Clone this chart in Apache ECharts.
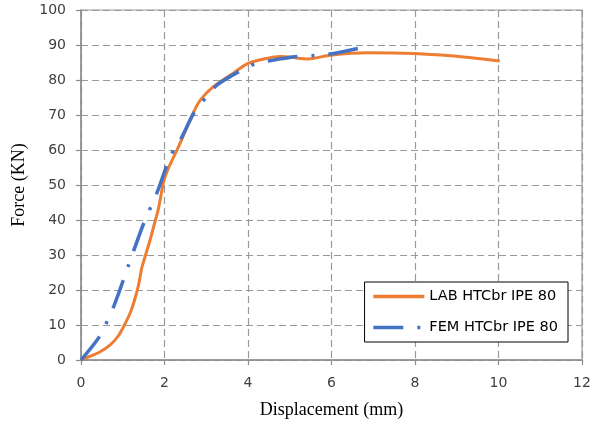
<!DOCTYPE html>
<html>
<head>
<meta charset="utf-8">
<script src="https://cdn.jsdelivr.net/npm/echarts@6/dist/echarts.min.js"></script>
<style>
  html, body { margin: 0; padding: 0; background: #ffffff; }
  #chart { width: 597px; height: 427px; }
</style>
</head>
<body>
<div id="chart"></div>
<script>
// Force-displacement curves: laboratory test vs. finite element model
const labDisp  = [0, 0.2, 0.44, 0.7, 0.9, 1.04, 1.18, 1.28, 1.38, 1.46, 1.56, 1.66, 1.76, 1.84, 1.9, 1.98, 2.1, 2.3, 2.54, 2.7, 2.86, 3.17, 3.58, 3.98, 4.38, 4.78, 5.0, 5.2, 5.42, 5.97, 6.87, 7.98, 8.86, 10.03];
const labForce = [0, 1.0, 2.2, 4.3, 7.0, 10, 13.5, 17, 21.5, 26.5, 30.5, 34.5, 39, 42.5, 46, 51, 55, 60, 66.5, 70.9, 74.3, 78.1, 81.4, 84.6, 86.0, 86.7, 86.6, 86.2, 86.0, 87.1, 87.8, 87.6, 86.9, 85.4];

const femDisp  = [0, 0.44, 0.78, 1.14, 1.5, 1.82, 2.06, 2.22, 2.38, 2.7, 2.98, 3.26, 3.78, 4.17, 4.62, 5.18, 5.6, 6.06, 6.71];
const femForce = [0, 6.7, 15.2, 27.1, 39, 47.8, 55.7, 60, 62.9, 70.5, 74.8, 78.6, 82.4, 84.6, 85.7, 86.7, 87.0, 87.6, 89.2];

const xTicks = { min: 0, max: 12, interval: 2 };
const yTicks = { min: 0, max: 100, interval: 10 };

const labName = 'LAB HTCbr IPE 80';
const femName = 'FEM HTCbr IPE 80';
const xTitle = 'Displacement (mm)';
const yTitle = 'Force (KN)';

const zip = (xs, ys) => xs.map((x, i) => [x, ys[i]]);

const gridLine = { show: true, lineStyle: { color: '#9a9a9a', width: 1.2, type: [7, 4] } };
const axisLine = { show: true, lineStyle: { color: '#8c8c8c', width: 1.5 } };
const tickStyle = { show: true, length: 5, lineStyle: { color: '#8c8c8c', width: 1.2 } };
const labelFont = { color: '#404040', fontFamily: 'DejaVu Sans', fontSize: 14 };
const titleFont = { color: '#000000', fontFamily: 'Liberation Serif', fontSize: 18 };

const chart = echarts.init(document.getElementById('chart'), null, { renderer: 'canvas' });
chart.setOption({
  backgroundColor: '#ffffff',
  animation: false,
  grid: {
    left: 81, right: 15, top: 10, bottom: 67,
    show: true, borderColor: '#9a9a9a', borderWidth: 1.2, backgroundColor: 'transparent'
  },
  xAxis: {
    type: 'value',
    min: xTicks.min, max: xTicks.max, interval: xTicks.interval,
    name: xTitle, nameLocation: 'middle', nameGap: 41, nameTextStyle: titleFont,
    axisLine: axisLine, axisTick: tickStyle,
    axisLabel: Object.assign({ margin: 16 }, labelFont),
    splitLine: gridLine
  },
  yAxis: {
    type: 'value',
    min: yTicks.min, max: yTicks.max, interval: yTicks.interval,
    name: yTitle, nameLocation: 'middle', nameGap: 52, nameTextStyle: titleFont,
    axisLine: axisLine, axisTick: tickStyle,
    axisLabel: Object.assign({ margin: 15 }, labelFont),
    splitLine: gridLine
  },
  legend: {
    orient: 'vertical',
    right: 29, top: 282,
    backgroundColor: '#ffffff',
    borderColor: '#000000', borderWidth: 1,
    padding: [7, 10, 7, 7],
    itemWidth: 51, itemHeight: 14, itemGap: 16,
    itemStyle: { opacity: 0 },
    lineStyle: { width: 3.5 },
    textStyle: { color: '#000000', fontFamily: 'DejaVu Sans', fontSize: 14.5 },
    data: [labName, femName]
  },
  series: [
    {
      name: labName, type: 'line',
      data: zip(labDisp, labForce),
      smooth: 0.25, symbol: 'none',
      lineStyle: { color: '#ED7D31', width: 3 },
      itemStyle: { color: '#ED7D31' },
      z: 2
    },
    {
      name: femName, type: 'line',
      data: zip(femDisp, femForce),
      smooth: 0.25, symbol: 'none',
      lineStyle: { color: '#4472C4', width: 3.5, type: [30, 14, 3, 14] },
      itemStyle: { color: '#4472C4' },
      z: 3
    }
  ]
});
</script>
</body>
</html>
